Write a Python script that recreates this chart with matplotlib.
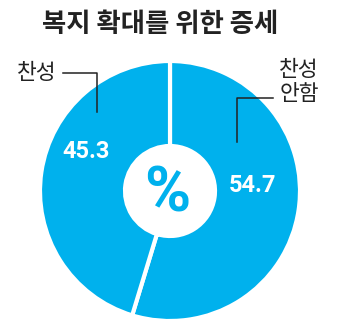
import matplotlib
matplotlib.use('Agg')
import matplotlib.pyplot as plt

# ============================================
#   복지 확대를 위한 증세 - donut chart
# ============================================

plt.rcParams['font.family'] = ['Noto Sans CJK KR', 'DejaVu Sans']

title = '복지 확대를 위한 증세'
labels = ['찬성\n안함', '찬성']
values = [54.7, 45.3]
center_text = '%'

blue = '#00b1ed'
dark = '#222222'

W, H = 340, 334
fig = plt.figure(figsize=(W / 100, H / 100), dpi=100)
ax = fig.add_axes([0, 0, 1, 1])

# pixel-like coordinates, y up
cx, cy = 170, H - 191
r_out, r_in = 130, 45

wedges, _ = ax.pie(values, startangle=90, counterclock=False,
                   center=(cx, cy), radius=r_out, frame=True,
                   colors=[blue, blue],
                   wedgeprops=dict(width=r_out - r_in, edgecolor='white',
                                   linewidth=3))

ax.set_xlim(0, W)
ax.set_ylim(0, H)
ax.set_aspect('equal')
ax.axis('off')

# title
ax.text(W / 2 - 10, H - 25, title, ha='center', va='center',
        fontsize=19, fontweight='black', color=dark)

# center percent sign
ax.text(cx - 3, cy - 3, center_text, ha='center', va='center',
        fontsize=45, fontweight='bold', color=blue, family='Roboto')

# values inside ring
ax.text(86, H - 151, f'{values[1]:.1f}', ha='center', va='center',
        fontsize=17, fontweight='bold', color='white', family='Roboto')
ax.text(253, H - 186, f'{values[0]:.1f}', ha='center', va='center',
        fontsize=17, fontweight='bold', color='white', family='Roboto')

# labels + leader lines
ax.text(37, H - 73, labels[1], ha='center', va='center',
        fontsize=15.5, color=dark)
ax.plot([63, 97, 97], [H - 73, H - 73, H - 112], color=dark, lw=1.1)

ax.text(299, H - 82, labels[0], ha='center', va='center',
        fontsize=15.5, color=dark, linespacing=1.15)
ax.plot([273, 237, 237], [H - 98, H - 98, H - 142], color=dark, lw=1.1)

plt.savefig('out.png', dpi=100)
